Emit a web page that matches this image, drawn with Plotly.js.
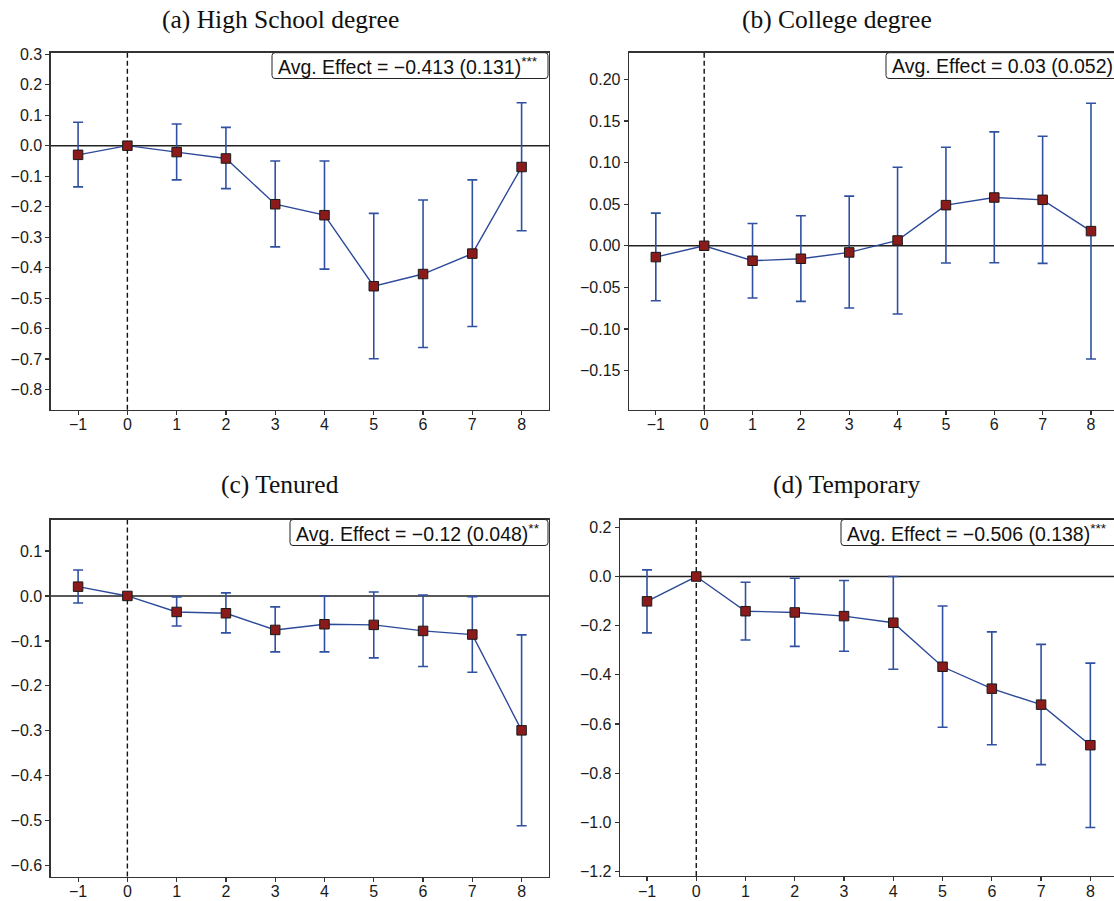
<!DOCTYPE html>
<html>
<head>
<meta charset="utf-8">
<script src="https://cdn.plot.ly/plotly-3.0.1.min.js"></script>
<style>
  html, body { margin: 0; padding: 0; background: #ffffff; }
  #chart { width: 1114px; height: 901px; }
</style>
</head>
<body>
<div id="chart"></div>
<script>
// Event-study estimates: period relative to treatment, point estimate and 95% CI bounds.
const periods = [-1, 0, 1, 2, 3, 4, 5, 6, 7, 8];

const highSchoolEst  = [-0.030, 0, -0.021, -0.042, -0.192, -0.228, -0.461, -0.421, -0.354, -0.070];
const highSchoolLow  = [-0.135, 0, -0.112, -0.141, -0.332, -0.405, -0.699, -0.662, -0.593, -0.279];
const highSchoolHigh = [ 0.077, 0,  0.071,  0.060, -0.050, -0.050, -0.222, -0.178, -0.112,  0.141];

const collegeEst  = [-0.0136, 0, -0.0180, -0.0156, -0.0080,  0.0064,  0.0488,  0.0580,  0.0552,  0.0176];
const collegeLow  = [-0.0660, 0, -0.0628, -0.0668, -0.0748, -0.0820, -0.0208, -0.0204, -0.0212, -0.1360];
const collegeHigh = [ 0.0392, 0,  0.0268,  0.0360,  0.0596,  0.0944,  0.1184,  0.1368,  0.1316,  0.1712];

const tenuredEst  = [ 0.0207, 0, -0.0356, -0.0385, -0.0756, -0.0630, -0.0644, -0.0778, -0.0859, -0.2990];
const tenuredLow  = [-0.0156, 0, -0.0667, -0.0822, -0.1244, -0.1244, -0.1378, -0.1570, -0.1696, -0.5110];
const tenuredHigh = [ 0.0578, 0, -0.0022,  0.0067, -0.0244, -0.0007,  0.0089,  0.0022, -0.0015, -0.0867];

const temporaryEst  = [-0.101, 0, -0.141, -0.146, -0.161, -0.188, -0.367, -0.456, -0.521, -0.686];
const temporaryLow  = [-0.229, 0, -0.258, -0.284, -0.304, -0.377, -0.613, -0.684, -0.765, -1.021];
const temporaryHigh = [ 0.027, 0, -0.023, -0.007, -0.016,  0.000, -0.120, -0.225, -0.276, -0.352];

// Panel captions and average-effect summaries.
const panelTitles = ['(a) High School degree', '(b) College degree', '(c) Tenured', '(d) Temporary'];
const avgEffect = [-0.413, 0.03, -0.12, -0.506];
const avgSE     = [0.131, 0.052, 0.048, 0.138];
const avgStars  = ['***', '', '**', '***'];

const estimates = [
  [highSchoolEst, highSchoolLow, highSchoolHigh],
  [collegeEst, collegeLow, collegeHigh],
  [tenuredEst, tenuredLow, tenuredHigh],
  [temporaryEst, temporaryLow, temporaryHigh]
];

// ---- page geometry (pixels) ----
const W = 1114, H = 901;
const fx = p => p / W;
const fy = p => 1 - p / H;

// plot rectangles: left, right, top, bottom (px) and axis ranges
const frames = [
  { l: 50.7, r: 549,  t: 52.7,  b: 409.7, xr: [-1.556, 8.556], yr: [-0.866, 0.305], dtick: 0.1,  fmt: '.1f', full: true,
    box: [272, 548, 52.7, 78.5], titleX: 280, titleY: 19 },
  { l: 629,  r: 1114, t: 52.7,  b: 409.7, xr: [-1.555, 8.476], yr: [-0.197, 0.232], dtick: 0.05, fmt: '.2f', full: false,
    box: [886, 1118, 52.7, 78.5], titleX: 837, titleY: 19 },
  { l: 50.7, r: 549,  t: 519.5, b: 876.5, xr: [-1.556, 8.556], yr: [-0.624, 0.170], dtick: 0.1,  fmt: '.1f', full: true,
    box: [290, 548, 519.5, 545.5], titleX: 280, titleY: 484 },
  { l: 620,  r: 1114, t: 519.5, b: 876.0, xr: [-1.548, 8.480], yr: [-1.218, 0.232], dtick: 0.2,  fmt: '.1f', full: false,
    box: [841, 1118, 519.5, 545.5], titleX: 846, titleY: 484 }
];

const lineBlue = '#2d4a9a';
const barBlue = '#3050a2';
const markerRed = '#8b1a1a';
const axisGrey = '#333333';
const sansFont = '"Liberation Sans", Arial, sans-serif';
const serifFont = '"Liberation Serif", "Times New Roman", serif';

const fmtNum = v => String(v).replace('-', '\u2212');

// rounded rectangle path in paper coordinates
function roundRect(x0, x1, y0, y1, rad) {
  const X = fx, Y = fy;
  return 'M' + X(x0 + rad) + ',' + Y(y0) +
    ' L' + X(x1 - rad) + ',' + Y(y0) +
    ' Q' + X(x1) + ',' + Y(y0) + ' ' + X(x1) + ',' + Y(y0 + rad) +
    ' L' + X(x1) + ',' + Y(y1 - rad) +
    ' Q' + X(x1) + ',' + Y(y1) + ' ' + X(x1 - rad) + ',' + Y(y1) +
    ' L' + X(x0 + rad) + ',' + Y(y1) +
    ' Q' + X(x0) + ',' + Y(y1) + ' ' + X(x0) + ',' + Y(y1 - rad) +
    ' L' + X(x0) + ',' + Y(y0 + rad) +
    ' Q' + X(x0) + ',' + Y(y0) + ' ' + X(x0 + rad) + ',' + Y(y0) + ' Z';
}

const traces = [];
const layout = {
  width: W, height: H,
  margin: { l: 0, r: 0, t: 0, b: 0, pad: 0 },
  paper_bgcolor: '#ffffff',
  plot_bgcolor: '#ffffff',
  showlegend: false,
  shapes: [],
  annotations: []
};

frames.forEach((f, i) => {
  const n = i + 1;
  const xa = n === 1 ? 'x' : 'x' + n;
  const ya = n === 1 ? 'y' : 'y' + n;
  const [est, low, high] = estimates[i];

  traces.push({
    type: 'scatter',
    mode: 'lines+markers',
    x: periods,
    y: est,
    xaxis: xa, yaxis: ya,
    line: { color: lineBlue, width: 1.4 },
    marker: { symbol: 'square', size: 9.5, color: markerRed, line: { color: '#1a1a1a', width: 1 } },
    error_y: {
      type: 'data', symmetric: false,
      array: high.map((h, k) => h - est[k]),
      arrayminus: low.map((lo, k) => est[k] - lo),
      color: barBlue, thickness: 1.6, width: 5
    },
    hoverinfo: 'x+y'
  });

  const axisCommon = {
    showline: true, linecolor: axisGrey, linewidth: 1.3,
    ticks: 'outside', ticklen: 4, tickwidth: 1.2, tickcolor: axisGrey,
    showgrid: false, zeroline: false,
    tickfont: { family: sansFont, size: 16, color: '#1a1a1a' }
  };

  layout['xaxis' + (n === 1 ? '' : n)] = Object.assign({}, axisCommon, {
    domain: [fx(f.l), fx(f.r)],
    range: f.xr,
    anchor: ya,
    tickmode: 'array', tickvals: periods,
    ticklabelstandoff: -4,
    mirror: true
  });
  layout['yaxis' + (n === 1 ? '' : n)] = Object.assign({}, axisCommon, {
    domain: [fy(f.b), fy(f.t)],
    range: f.yr,
    anchor: xa,
    tickmode: 'linear', tick0: 0, dtick: f.dtick, tickformat: f.fmt,
    mirror: f.full
  });

  // reference line at zero
  layout.shapes.push({
    type: 'line', xref: xa + ' domain', yref: ya,
    x0: 0, x1: 1, y0: 0, y1: 0,
    line: { color: '#222222', width: 1.6 },
    layer: 'below'
  });

  // treatment onset marker
  layout.shapes.push({
    type: 'line', xref: xa, yref: ya + ' domain',
    x0: 0, x1: 0, y0: 0, y1: 1,
    line: { color: '#111111', width: 1.4, dash: '5px,3px' },
    layer: 'below'
  });

  // summary box
  const [bx0, bx1, by0, by1] = f.box;
  layout.shapes.push({
    type: 'path', xref: 'paper', yref: 'paper',
    path: roundRect(bx0, bx1, by0, by1, 3),
    fillcolor: '#ffffff',
    line: { color: '#222222', width: 1 },
    layer: 'above'
  });
  layout.annotations.push({
    xref: 'paper', yref: 'paper',
    x: fx(bx0 + 4), y: fy((by0 + by1) / 2 + 0.5),
    xanchor: 'left', yanchor: 'middle',
    showarrow: false,
    text: 'Avg. Effect = ' + fmtNum(avgEffect[i]) + ' (' + fmtNum(avgSE[i]) + ')' +
          (avgStars[i] ? '<sup>' + avgStars[i] + '</sup>' : ''),
    font: { family: sansFont, size: 19.5, color: '#111111' }
  });

  // panel caption
  layout.annotations.push({
    xref: 'paper', yref: 'paper',
    x: fx(f.titleX), y: fy(f.titleY),
    xanchor: 'center', yanchor: 'middle',
    showarrow: false,
    text: panelTitles[i],
    font: { family: serifFont, size: 25.5, color: '#111111' }
  });
});

Plotly.newPlot('chart', traces, layout, { displayModeBar: false, staticPlot: true });
</script>
</body>
</html>
